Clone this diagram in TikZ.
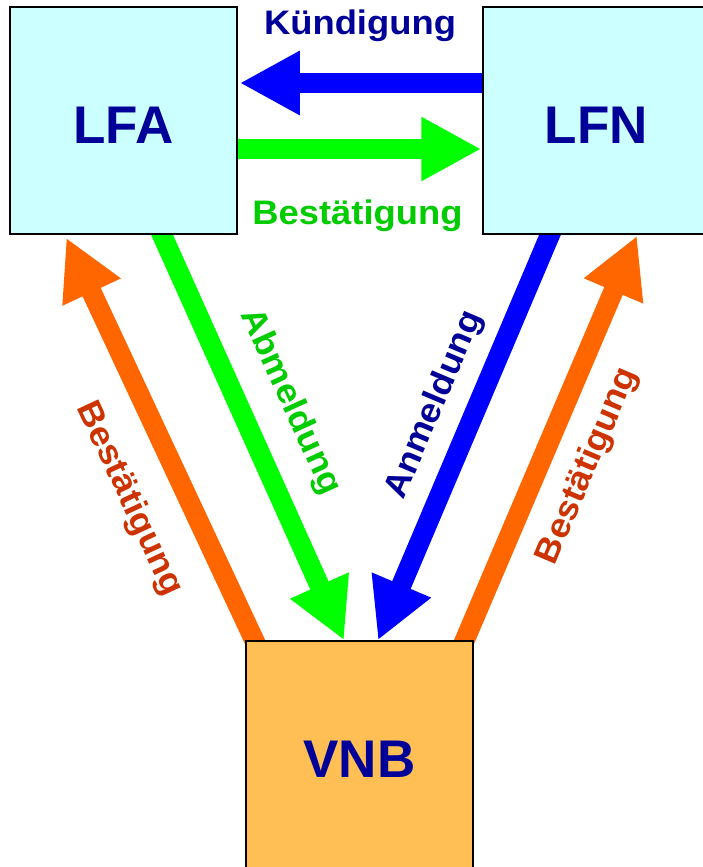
\documentclass[tikz,border=0pt]{standalone}
\usepackage{fontspec}
\setmainfont{Liberation Sans}
\newfontfamily\lblfont[FakeStretch=1.07]{Liberation Sans}
\usetikzlibrary{arrows.meta,backgrounds}
\definecolor{boxblue}{HTML}{CCFFFF}
\definecolor{boxorange}{HTML}{FFBF55}
\definecolor{txtblue}{HTML}{000099}
\definecolor{txtgreen}{HTML}{00CC00}
\definecolor{txtorange}{HTML}{CC3300}
\definecolor{arrblue}{HTML}{0000FF}
\definecolor{arrgreen}{HTML}{00FF00}
\definecolor{arrorange}{HTML}{FF6600}
\newcommand{\lowr}[1]{\raisebox{-3.5pt}[38pt][0pt]{#1}}
\tikzset{
  party/.style={draw=black, line width=1.5pt, minimum width=227pt, minimum height=227pt,
    inner sep=0pt, text=txtblue, font=\bfseries\fontsize{53}{60}\selectfont},
  fat/.style={line width=20pt, -{Triangle[length=60pt,width=60pt]}, shorten <=-12pt},
  lbl/.style={font=\lblfont\bfseries\fontsize{34}{40}\selectfont, inner sep=0pt}
}
\begin{document}
\begin{tikzpicture}[x=1pt,y=-1pt]
\useasboundingbox (0,0) rectangle (703,867);
\node[party, fill=boxblue] (LFA) at (123.5,120.5) {\lowr{LFA}};
\node[party, fill=boxblue] (LFN) at (596.5,120.5) {\lowr{LFN}};
\node[party, fill=boxorange] (VNB) at (359.5,754.5) {\lowr{VNB}};
\begin{pgfonlayer}{background}
\draw[fat, arrblue] ([yshift=37.5pt]LFN.west) -- ([yshift=37.5pt,xshift=2pt]LFA.east);
\draw[fat, arrgreen] ([yshift=-28.5pt]LFA.east) -- ([yshift=-28.5pt,xshift=-1pt]LFN.west);
\draw[fat, arrorange] ([xshift=9pt]VNB.north west) -- ([xshift=57pt,yshift=-3pt]LFA.south west);
\draw[fat, arrgreen] ([xshift=38.5pt]LFA.south) -- ([xshift=-15.5pt]VNB.north);
\draw[fat, arrblue] ([xshift=-46.5pt]LFN.south) -- ([xshift=18.5pt]VNB.north);
\draw[fat, arrorange] ([xshift=-9pt]VNB.north east) -- ([xshift=40.5pt,yshift=-1pt]LFN.south);
\end{pgfonlayer}
\node[lbl, text=txtblue, anchor=base] (kuend) at (360,35) {Kündigung};
\node[lbl, text=txtgreen, anchor=base] (best1) at (357.5,224) {Bestätigung};
\node[lbl, text=txtorange, rotate=-65] (best2) at (129,499) {Bestätigung};
\node[lbl, text=txtgreen, rotate=-65.5] (abm) at (290,402) {Abmeldung};
\node[lbl, text=txtblue, rotate=67] (anm) at (435,405) {Anmeldung};
\node[lbl, text=txtorange, rotate=67] (best3) at (588,466) {Bestätigung};
\end{tikzpicture}
\end{document}
